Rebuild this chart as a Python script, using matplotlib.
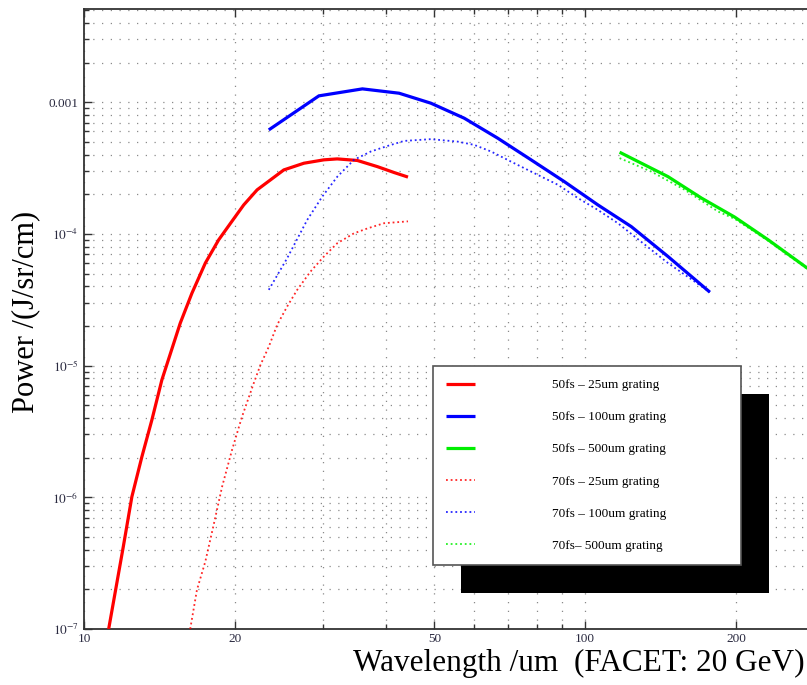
import matplotlib
matplotlib.use('Agg')
import matplotlib.pyplot as plt
from matplotlib.ticker import FixedLocator, FuncFormatter, NullFormatter
from matplotlib.patches import Rectangle
from matplotlib.transforms import IdentityTransform

plt.rcParams['font.family'] = ['Liberation Serif', 'DejaVu Serif']
plt.rcParams['mathtext.fontset'] = 'stix'

# ---- data (wavelength in um, power in J/sr/cm) ----
wl_red50 = [11.2, 11.98, 12.46, 13.05, 13.66, 14.30, 15.56, 16.42, 17.46, 18.56, 19.59,
            20.83, 22.15, 23.55, 25.04, 27.46, 30.1, 32.0, 35.1, 38.5, 41.6, 44.3]
p_red50 = [1.0e-7, 4.23e-7, 1.01e-6, 2.04e-6, 3.87e-6, 7.78e-6, 2.10e-5, 3.55e-5, 6.0e-5, 9.0e-5, 1.20e-4,
           1.66e-4, 2.16e-4, 2.57e-4, 3.06e-4, 3.44e-4, 3.65e-4, 3.71e-4, 3.61e-4, 3.24e-4, 2.92e-4, 2.70e-4]

wl_blue50 = [23.37, 29.42, 35.93, 42.52, 49.2, 57.36, 66.9, 77.98, 90.9, 106.0, 123.6, 146.3, 177.3]
p_blue50 = [6.16e-4, 1.117e-3, 1.262e-3, 1.17e-3, 9.83e-4, 7.56e-4, 5.33e-4, 3.65e-4, 2.49e-4,
            1.66e-4, 1.135e-4, 6.73e-5, 3.61e-5]

wl_green50 = [117.1, 146.3, 170.6, 198.8, 231.9, 274.6, 290.0]
p_green50 = [4.17e-4, 2.72e-4, 1.87e-4, 1.34e-4, 9.0e-5, 5.65e-5, 4.9e-5]

wl_red70 = [16.29, 16.80, 17.46, 18.14, 18.86, 19.74, 20.67, 21.81, 22.49, 23.37, 24.29, 25.43,
            26.63, 28.31, 30.1, 32.02, 34.56, 36.76, 39.68, 44.3]
p_red70 = [1.0e-7, 1.98e-7, 3.25e-7, 6.17e-7, 1.205e-6, 2.29e-6, 4.10e-6, 7.35e-6, 1.01e-5, 1.39e-5,
           2.04e-5, 2.81e-5, 3.76e-5, 5.18e-5, 6.73e-5, 8.50e-5, 1.01e-4, 1.10e-4, 1.205e-4, 1.245e-4]

wl_blue70 = [23.37, 25.43, 27.88, 29.88, 32.02, 34.56, 37.33, 40.31, 43.5, 49.2, 55.65, 60.05, 64.9,
             71.1, 79.15, 88.2, 96.7, 106.0, 116.2, 125.5, 146.3, 177.3]
p_blue70 = [3.76e-5, 6.54e-5, 1.276e-4, 1.92e-4, 2.72e-4, 3.65e-4, 4.22e-4, 4.65e-4, 5.08e-4, 5.24e-4,
            5.02e-4, 4.74e-4, 4.22e-4, 3.54e-4, 2.89e-4, 2.36e-4, 1.87e-4, 1.52e-4, 1.205e-4, 9.54e-5,
            6.0e-5, 3.61e-5]

wl_green70 = [117.1, 135.5, 158.0, 184.2, 198.8, 231.9, 274.6, 290.0]
p_green70 = [3.76e-4, 2.97e-4, 2.16e-4, 1.476e-4, 1.30e-4, 8.85e-5, 5.57e-5, 4.8e-5]

labels = ['50fs \u2013 25um grating', '50fs \u2013 100um grating', '50fs \u2013 500um grating',
          '70fs \u2013 25um grating', '70fs \u2013 100um grating', '70fs\u2013 500um grating']

x_major = [10, 20, 50, 100, 200]
x_minor = [30, 40, 60, 70, 80, 90, 300]

# ---- figure ----
W, H = 807, 685
fig = plt.figure(figsize=(W / 100, H / 100), dpi=100)
ax = fig.add_axes([84 / W, 56 / H, 723 / W, 620 / H])
ax.set_xscale('log')
ax.set_yscale('log')
ax.set_xlim(10, 277)
ax.set_ylim(1e-7, 5.1e-3)

solid_kw = dict(lw=2.3, solid_capstyle='butt', solid_joinstyle='miter', zorder=3)
dot_kw = dict(lw=1.3, linestyle=(0, (1, 1.6)), alpha=0.85, zorder=3)

h1, = ax.plot(wl_red50, p_red50, color='#ff0000', **solid_kw)
h2, = ax.plot(wl_blue50, p_blue50, color='#0000ff', **solid_kw)
h3, = ax.plot(wl_green50, p_green50, color='#00ee00', **solid_kw)
h4, = ax.plot(wl_red70, p_red70, color='#ff0000', **dot_kw)
h5, = ax.plot(wl_blue70, p_blue70, color='#0000ff', **dot_kw)
h6, = ax.plot(wl_green70, p_green70, color='#00ee00', **dot_kw)

# ticks
ax.xaxis.set_major_locator(FixedLocator(x_major))
ax.xaxis.set_minor_locator(FixedLocator(x_minor))
ax.xaxis.set_major_formatter(FuncFormatter(lambda v, p: '%d' % round(v)))
ax.xaxis.set_minor_formatter(NullFormatter())

def yfmt(v, p):
    import math
    e = int(round(math.log10(v)))
    if e == -3:
        return '0.001'
    return r'$10^{%d}$' % e

y_major = [1e-7, 1e-6, 1e-5, 1e-4, 1e-3]
y_minor = [m * 10.0 ** e for e in range(-7, -2) for m in range(2, 10)]
ax.yaxis.set_major_locator(FixedLocator(y_major))
ax.yaxis.set_minor_locator(FixedLocator(y_minor))
ax.yaxis.set_major_formatter(FuncFormatter(yfmt))
ax.yaxis.set_minor_formatter(NullFormatter())

tick_col = '#2a2a40'
ax.tick_params(which='both', direction='in', top=True, right=False, colors='#333333',
               labelcolor=tick_col, labelsize=9.5, width=1.0)
ax.tick_params(which='major', length=6, pad=4)
ax.tick_params(axis='x', which='major', pad=3)
ax.tick_params(which='minor', length=3.5)

ax.grid(True, which='both', color='#8a8a8a', lw=0.9, linestyle=(0, (1, 6)))
ax.set_axisbelow(True)

for s in ['left', 'bottom', 'top']:
    ax.spines[s].set_color('#333333')
    ax.spines[s].set_linewidth(1.3)
ax.spines['right'].set_visible(False)

# axis labels
ax.set_xlabel('Wavelength /um  (FACET: 20 GeV)', fontsize=22.5, ha='left', va='baseline')
ax.xaxis.set_label_coords((353 - 84) / 723, (629 - 671) / 620)
ax.set_ylabel('Power /(J/sr/cm)', fontsize=22, ha='center', va='center')
ax.yaxis.set_label_coords((26 - 84) / 723, (629 - 312) / 620)

# legend
leg = ax.legend([h1, h2, h3, h4, h5, h6], labels, loc='upper left',
                bbox_to_anchor=(433 / W, 0, 308 / W, (H - 366) / H),
                bbox_transform=fig.transFigure, mode='expand', borderaxespad=0,
                fancybox=False, framealpha=1, edgecolor='#555555',
                prop={'family': 'Liberation Serif', 'size': 9.5},
                handlelength=2.2, handletextpad=5.85, labelspacing=1.5, borderpad=1.0)
leg.get_frame().set_linewidth(1.2)
leg.set_zorder(6)

fig.canvas.draw()
bb = leg.get_frame().get_window_extent(fig.canvas.get_renderer())
shadow = Rectangle((bb.x0 + 28, bb.y0 - 28), bb.width, bb.height, transform=IdentityTransform(),
                   facecolor='black', edgecolor='none', zorder=5)
ax.add_artist(shadow)

fig.savefig('out.png', dpi=100)
